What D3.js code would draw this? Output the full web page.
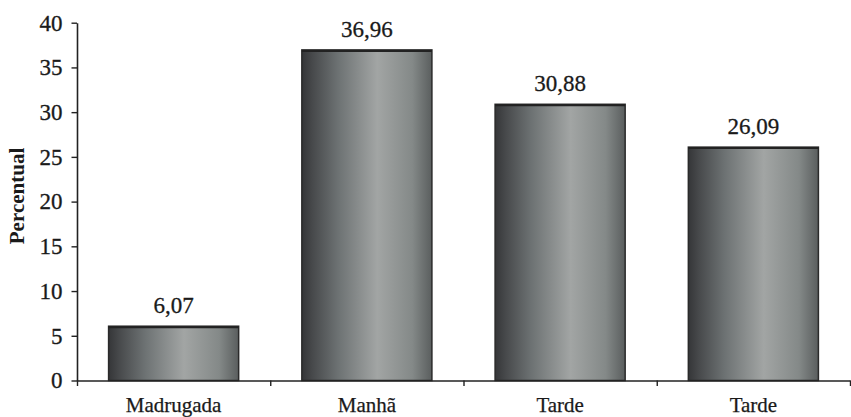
<!DOCTYPE html>
<html>
<head>
<meta charset="utf-8">
<script src="https://cdn.jsdelivr.net/npm/d3@7"></script>
<style>
  html, body { margin: 0; padding: 0; background: #fff; }
  svg { display: block; }
  text { font-family: "Liberation Serif", "Times New Roman", serif; fill: #1a1a1a; }
</style>
</head>
<body>
<svg id="chart" width="851" height="417"></svg>
<script>
const categories = ["Madrugada", "Manhã", "Tarde", "Tarde"];
const values = [6.07, 36.96, 30.88, 26.09];
const valueLabels = ["6,07", "36,96", "30,88", "26,09"];
const yTicks = [0, 5, 10, 15, 20, 25, 30, 35, 40];
const yTitle = "Percentual";

const plotLeft = 77, plotRight = 850, plotTop = 22.7, plotBottom = 380.5;
const serif = "Liberation Serif, Times New Roman, serif";

const svg = d3.select("#chart");

const defs = svg.append("defs");
const grad = defs.append("linearGradient")
  .attr("id", "barGrad").attr("x1", "0").attr("x2", "1").attr("y1", "0").attr("y2", "0");
[[0, "#353638"], [0.08, "#47494b"], [0.28, "#6d7273"], [0.58, "#a2a5a4"], [0.85, "#848988"], [1, "#5a5e5e"]]
  .forEach(([o, c]) => grad.append("stop").attr("offset", o).attr("stop-color", c));

const x = d3.scaleBand()
  .domain(d3.range(categories.length))
  .range([plotLeft, plotRight])
  .paddingInner(0.327)
  .paddingOuter(0.1635);

const xEdges = d3.scaleLinear().domain([0, categories.length]).range([plotLeft, plotRight]);

const y = d3.scaleLinear().domain([0, 40]).range([plotBottom, plotTop]);

// bars
svg.append("g").selectAll("rect")
  .data(values)
  .join("rect")
  .attr("x", (d, i) => x(i))
  .attr("y", d => y(d))
  .attr("width", x.bandwidth())
  .attr("height", d => y(0) - y(d))
  .attr("fill", "url(#barGrad)")
  .attr("stroke", "#2a2a2a")
  .attr("stroke-width", 1.5);

// top edge emphasis
svg.append("g").selectAll("line")
  .data(values)
  .join("line")
  .attr("x1", (d, i) => x(i))
  .attr("x2", (d, i) => x(i) + x.bandwidth())
  .attr("y1", d => y(d) + 1)
  .attr("y2", d => y(d) + 1)
  .attr("stroke", "#222")
  .attr("stroke-width", 2);

// value labels
svg.append("g").selectAll("text")
  .data(values)
  .join("text")
  .attr("x", (d, i) => x(i) + x.bandwidth() / 2)
  .attr("y", d => y(d) - 13)
  .attr("text-anchor", "middle")
  .attr("font-size", 23)
  .attr("stroke", "#1a1a1a")
  .attr("stroke-width", 0.3)
  .text((d, i) => valueLabels[i]);

// y axis
const yAxis = svg.append("g")
  .attr("transform", `translate(${plotLeft},0)`)
  .call(d3.axisLeft(y).tickValues(yTicks).tickSize(5.5).tickPadding(9).tickSizeOuter(0));
yAxis.select(".domain").attr("stroke", "#222").attr("stroke-width", 1.6);
yAxis.selectAll(".tick line").attr("stroke", "#222").attr("stroke-width", 1.4);
yAxis.selectAll(".tick text")
  .attr("font-size", 23)
  .attr("font-family", serif)
  .attr("fill", "#1a1a1a")
  .attr("stroke", "#1a1a1a")
  .attr("stroke-width", 0.3);

// x axis: boundary ticks
const xAxis = svg.append("g")
  .attr("transform", `translate(0,${plotBottom})`)
  .call(d3.axisBottom(xEdges).tickValues(d3.range(categories.length + 1)).tickSize(5.5).tickFormat("").tickSizeOuter(0));
xAxis.select(".domain").attr("stroke", "#222").attr("stroke-width", 1.6);
xAxis.selectAll(".tick line").attr("stroke", "#222").attr("stroke-width", 1.4);

// x category labels
const xLabels = svg.append("g")
  .attr("transform", `translate(0,${plotBottom})`)
  .call(d3.axisBottom(x).tickSize(0).tickPadding(17).tickFormat(i => categories[i]));
xLabels.select(".domain").remove();
xLabels.selectAll(".tick text")
  .attr("font-size", 21)
  .attr("font-family", serif)
  .attr("fill", "#1a1a1a")
  .attr("stroke", "#1a1a1a")
  .attr("stroke-width", 0.25);

// y title
svg.append("text")
  .attr("transform", `translate(24,196) rotate(-90)`)
  .attr("text-anchor", "middle")
  .attr("font-size", 21)
  .attr("font-weight", "bold")
  .text(yTitle);
</script>
</body>
</html>
